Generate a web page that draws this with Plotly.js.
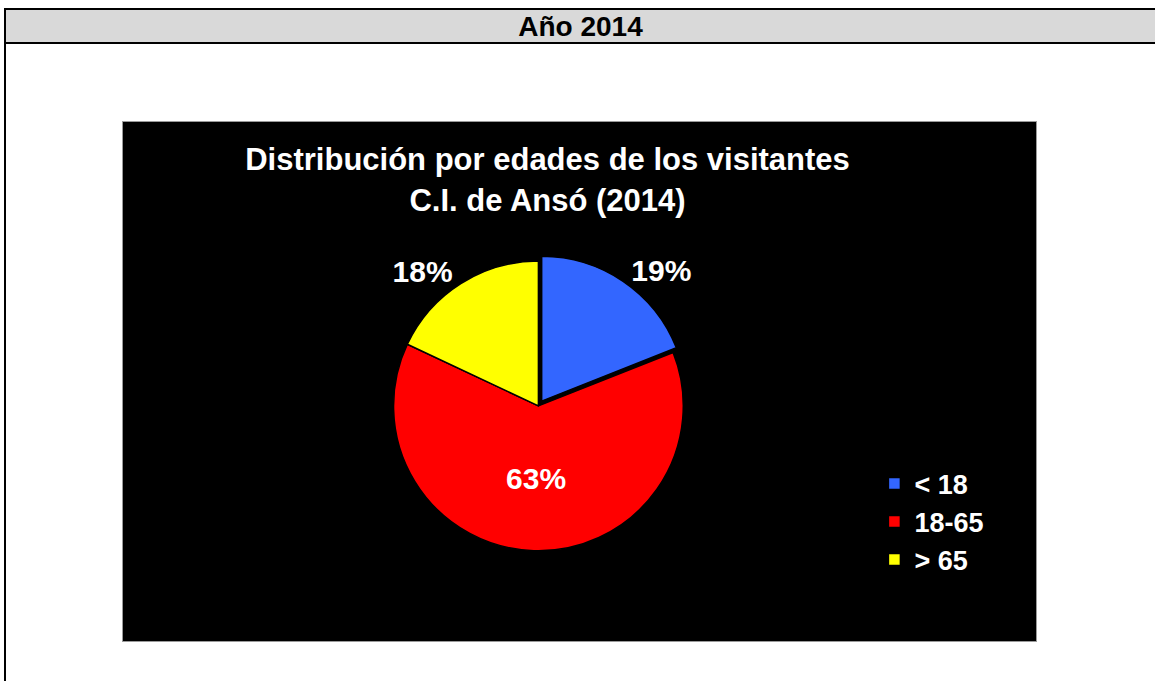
<!DOCTYPE html>
<html>
<head>
<meta charset="utf-8">
<script src="https://cdn.plot.ly/plotly-3.0.1.min.js"></script>
<style>
  html, body { margin: 0; padding: 0; background: #ffffff; }
  body { width: 1155px; height: 681px; overflow: hidden; position: relative;
         font-family: "Liberation Sans", Arial, sans-serif; }
  #frame { position: absolute; left: 4px; top: 8px; width: 1200px; height: 700px;
           border-left: 2px solid #000; border-top: 2px solid #000; }
  #header { position: absolute; left: 0; top: 0; width: 1149px; height: 32px;
            background: #d9d9d9; border-bottom: 2px solid #000;
            font-weight: bold; font-size: 28px; line-height: 33px; text-align: center; color: #000; }
  #box { position: absolute; left: 122px; top: 121px; width: 913px; height: 519px;
         border: 1px solid #9a9a9a; background: #000; }
  #chart { width: 913px; height: 519px; }
</style>
</head>
<body>
<div id="frame"><div id="header">Año 2014</div></div>
<div id="box"><div id="chart"></div></div>
<script>
const categories = ["< 18", "18-65", "> 65"];
const values = [19, 63, 18];
const sliceColors = ["#3366FF", "#FF0000", "#FFFF00"];
const textPositions = ["outside", "inside", "outside"];
const chartTitle = "Distribución por edades de los visitantes<br>C.I. de Ansó (2014)";

const trace = {
  type: "pie",
  labels: categories,
  values: values,
  sort: false,
  direction: "clockwise",
  rotation: 0,
  pull: [0.04, 0, 0],
  marker: { colors: sliceColors, line: { color: "#000000", width: 1.5 } },
  texttemplate: "%{percent:.0%}",
  textposition: textPositions,
  insidetextorientation: "horizontal",
  textfont: { family: "Liberation Sans, Arial, sans-serif", size: 30, color: "#ffffff", weight: "bold" },
  outsidetextfont: { family: "Liberation Sans, Arial, sans-serif", size: 30, color: "#ffffff", weight: "bold" },
  insidetextfont: { family: "Liberation Sans, Arial, sans-serif", size: 30, color: "#ffffff", weight: "bold" },
  domain: { x: [0.29, 0.62], y: [0.153, 0.753] },
  hoverinfo: "label+percent"
};

const layout = {
  width: 913, height: 519,
  paper_bgcolor: "#000000",
  plot_bgcolor: "#000000",
  margin: { l: 0, r: 0, t: 0, b: 0 },
  title: {
    text: chartTitle,
    x: 0.465, xanchor: "center",
    y: 0.907, yanchor: "top", yref: "container",
    font: { family: "Liberation Sans, Arial, sans-serif", size: 31, color: "#ffffff", weight: "bold" }
  },
  showlegend: true,
  legend: {
    x: 0.823, xanchor: "left",
    y: 0.35, yanchor: "top",
    bgcolor: "rgba(0,0,0,0)",
    font: { family: "Liberation Sans, Arial, sans-serif", size: 27, color: "#ffffff", weight: "bold" }
  }
};

Plotly.newPlot("chart", [trace], layout, { staticPlot: true, displayModeBar: false });
</script>
</body>
</html>
